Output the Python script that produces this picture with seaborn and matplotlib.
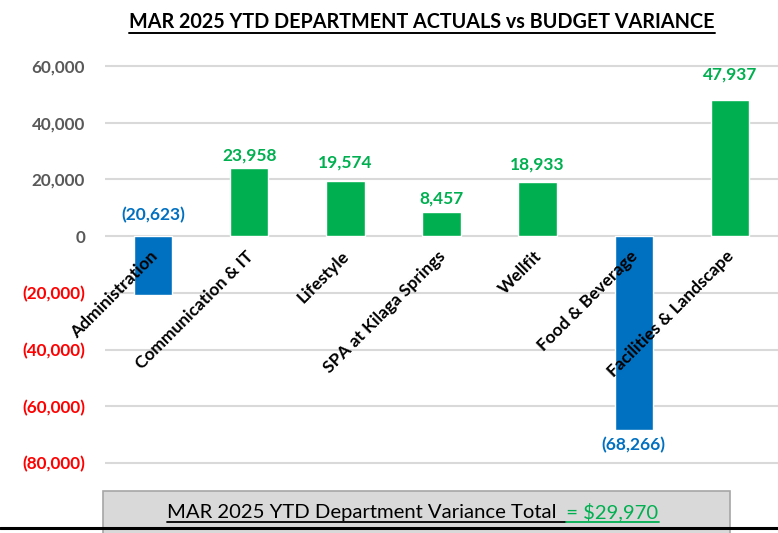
import numpy as np
import pandas as pd
import matplotlib
matplotlib.use("Agg")
import matplotlib.pyplot as plt
import seaborn as sns
from matplotlib.lines import Line2D
from matplotlib.patches import Rectangle
from matplotlib.ticker import FuncFormatter

# Datos
departamentos = ['Administration', 'Communication & IT', 'Lifestyle', 'SPA at Kilaga Springs',
                 'Wellfit', 'Food & Beverage', 'Facilities & Landscape']
varianza = [-20623, 23958, 19574, 8457, 18933, -68266, 47937]
total_texto = 'MAR 2025 YTD Department Variance Total'
total_valor = '  = $29,970'
titulo = 'MAR 2025 YTD DEPARTMENT ACTUALS vs BUDGET VARIANCE'
y_ticks = [60000, 40000, 20000, 0, -20000, -40000, -60000, -80000]

# separacion (px) entre etiqueta y barra, como en el original
sep_etiqueta = [13, 5, 10, 6, 10, 7, 18]

VERDE = '#00B050'
AZUL = '#0070C0'
ROJO = '#FF0000'
GRIS = '#595959'
PX = 72 / 100  # puntos por pixel

df = pd.DataFrame({'depto': departamentos, 'valor': varianza})
colores = [VERDE if v >= 0 else AZUL for v in varianza]

sns.set_style('white')
plt.rcParams['font.family'] = ['Lato', 'DejaVu Sans']

fig = plt.figure(figsize=(7.78, 5.33), dpi=100)
ax = fig.add_axes([105 / 778, 1 - 465.8 / 533, 673 / 778, (465.8 - 63.2) / 533])

sns.barplot(data=df, x='depto', y='valor', hue='depto', palette=colores,
            legend=False, width=0.4, saturation=1, ax=ax, zorder=2)

ax.set_ylim(-81000, 61000)
ax.set_xlim(-0.5, 6.5)
ax.set_yticks(y_ticks)
ax.yaxis.set_major_formatter(FuncFormatter(lambda x, _: f'{x:,.0f}' if x >= 0 else f'({-x:,.0f})'))
ax.tick_params(axis='y', length=0, pad=20 * PX, labelsize=12.3)
for lbl, v in zip(ax.get_yticklabels(), y_ticks):
    lbl.set_fontweight('bold')
    lbl.set_color(GRIS if v >= 0 else ROJO)
ax.set_xticks([])
ax.set_xlabel('')
ax.set_ylabel('')
ax.grid(axis='y', color='#D9D9D9', linewidth=1.5)
ax.set_axisbelow(True)
for s in ax.spines.values():
    s.set_visible(False)

# Etiquetas de categoria (rotadas, sobre la linea cero)
for i, d in enumerate(departamentos):
    ax.annotate(d, xy=(i, 0), xytext=(-4 * PX, -12 * PX), textcoords='offset points',
                rotation=45, ha='right', va='top', rotation_mode='anchor',
                fontsize=12.5, fontweight='bold', color='black', zorder=5)

# Etiquetas de valores
for i, v in enumerate(varianza):
    txt = f'{v:,.0f}' if v >= 0 else f'({-v:,.0f})'
    g = sep_etiqueta[i] * PX
    if v >= 0:
        ax.annotate(txt, xy=(i, v), xytext=(0, g), textcoords='offset points',
                    ha='center', va='bottom', fontsize=12.5, fontweight='bold', color=VERDE)
    elif v > -30000:
        ax.annotate(txt, xy=(i, 0), xytext=(0, g), textcoords='offset points',
                    ha='center', va='bottom', fontsize=12.5, fontweight='bold', color=AZUL)
    else:
        ax.annotate(txt, xy=(i, v), xytext=(0, -g), textcoords='offset points',
                    ha='center', va='top', fontsize=12.5, fontweight='bold', color=AZUL)

# Titulo subrayado
t = fig.text(422 / 778, 1 - 21.5 / 533, titulo, ha='center', va='center',
             fontsize=14.2, fontweight='bold', color='black')

# Linea negra inferior y caja del total
fig.add_artist(Line2D([0, 1], [5 / 533, 5 / 533], color='black', lw=2.2))
fig.add_artist(Rectangle((103 / 778, -0.01), 627 / 778, (533 - 491) / 533 + 0.01,
                         facecolor='#D9D9D9', edgecolor='#A6A6A6', lw=1.2))
t1 = fig.text(167 / 778, 15 / 533, total_texto, ha='left', va='baseline',
              fontsize=14.6, color='black')

fig.canvas.draw()
r = fig.canvas.get_renderer()
bb1 = t1.get_window_extent(r).transformed(fig.transFigure.inverted())
t2 = fig.text(bb1.x1, 15 / 533, total_valor, ha='left', va='baseline',
              fontsize=14.6, color=VERDE)
fig.canvas.draw()
bb2 = t2.get_window_extent(r).transformed(fig.transFigure.inverted())
bbt = t.get_window_extent(r).transformed(fig.transFigure.inverted())

fig.add_artist(Line2D([bb1.x0, bb1.x1 + 0.012], [11 / 533, 11 / 533], color='black', lw=1.3))
fig.add_artist(Line2D([bb1.x1 + 0.012, bb2.x1], [11 / 533, 11 / 533], color=VERDE, lw=1.3))
fig.add_artist(Line2D([bbt.x0, bbt.x1], [bbt.y0 - 0.002, bbt.y0 - 0.002], color='black', lw=1.4))

fig.savefig('out.png', dpi=100)
